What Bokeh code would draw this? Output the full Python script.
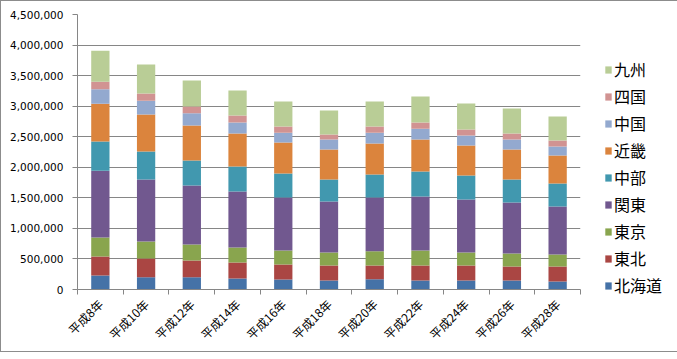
import math
from bokeh.plotting import figure
from bokeh.models import (FixedTicker, NumeralTickFormatter, Legend, LegendItem,
                          ColumnDataSource, Range1d)
from bokeh.embed import file_html
from bokeh.resources import INLINE

years = ["平成8年", "平成10年", "平成12年", "平成14年", "平成16年", "平成18年",
         "平成20年", "平成22年", "平成24年", "平成26年", "平成28年"]
series_names = ["北海道", "東北", "東京", "関東", "中部", "近畿", "中国", "四国", "九州"]

hokkaido = [230000, 201000, 200000, 180000, 164000, 147000, 169000, 147000, 147000, 147000, 131000]
tohoku = [310000, 306000, 275000, 262000, 245000, 246000, 224000, 246000, 246000, 229000, 245000]
tokyo = [310000, 278000, 261000, 245000, 229000, 212000, 234000, 245000, 212000, 213000, 197000]
kanto = [1095000, 1015000, 966000, 917000, 867000, 835000, 878000, 884000, 868000, 835000, 785000]
chubu = [475000, 458000, 409000, 409000, 393000, 360000, 377000, 409000, 392000, 376000, 377000]
kinki = [620000, 606000, 573000, 540000, 507000, 491000, 507000, 524000, 491000, 491000, 458000]
chugoku = [235000, 224000, 201000, 180000, 159000, 164000, 175000, 175000, 164000, 164000, 147000]
shikoku = [125000, 119000, 110000, 114000, 103000, 81000, 103000, 103000, 98000, 98000, 98000]
kyushu = [505000, 475000, 425000, 409000, 409000, 393000, 409000, 425000, 426000, 409000, 393000]

y_ticks = [0, 500000, 1000000, 1500000, 2000000, 2500000, 3000000, 3500000, 4000000, 4500000]

colors = ["#4572A7", "#AA4643", "#89A54E", "#71588F", "#4198AF",
          "#DB843D", "#93A9CF", "#D19392", "#B9CD96"]

values = [hokkaido, tohoku, tokyo, kanto, chubu, kinki, chugoku, shikoku, kyushu]
keys = ["s%d" % i for i in range(len(series_names))]
centers = [i + 0.5 for i in range(len(years))]
data = {"x": centers}
for k, v in zip(keys, values):
    data[k] = v
source = ColumnDataSource(data)

p = figure(frame_width=503, frame_height=275, output_backend="svg", toolbar_location=None,
           x_range=Range1d(0, len(years)), y_range=Range1d(0, 4500000),
           min_border_left=76, min_border_right=82, min_border_top=13,
           min_border_bottom=50)
p.styles = {"border": "1px solid #8c8c8c", "box-sizing": "border-box"}

renderers = p.vbar_stack(keys, x="x", width=0.4, color=colors, line_color=None,
                         source=source)

grid_col = "#868686"
p.outline_line_color = None
p.xgrid.grid_line_color = None
p.ygrid.grid_line_color = grid_col
p.ygrid.ticker = FixedTicker(ticks=y_ticks)

# y axis
p.yaxis.ticker = FixedTicker(ticks=y_ticks)
p.yaxis.formatter = NumeralTickFormatter(format="0,0")
p.yaxis.axis_line_color = grid_col
p.yaxis.major_tick_line_color = grid_col
p.yaxis.major_tick_out = 5
p.yaxis.major_tick_in = 0
p.yaxis.minor_tick_line_color = None
p.yaxis.major_label_text_font = "DejaVu Sans"
p.yaxis.major_label_text_font_size = "10.5px"
p.yaxis.major_label_text_color = "#000000"
p.yaxis.major_label_standoff = 9

# x axis
p.xaxis.ticker = FixedTicker(ticks=centers, minor_ticks=list(range(len(years) + 1)))
p.xaxis.major_label_overrides = {c: y for c, y in zip(centers, years)}
p.xaxis.axis_line_color = grid_col
p.xaxis.major_tick_line_color = None
p.xaxis.minor_tick_line_color = grid_col
p.xaxis.minor_tick_out = 5
p.xaxis.minor_tick_in = 0
p.xaxis.major_label_orientation = math.pi / 4
p.xaxis.major_label_text_font = "Noto Sans CJK JP"
p.xaxis.major_label_text_font_size = "12px"
p.xaxis.major_label_text_color = "#000000"
p.xaxis.major_label_standoff = 6

items = [LegendItem(label=n, renderers=[r]) for n, r in zip(series_names, renderers)]
items = items[::-1]
legend = Legend(items=items, location=(24, -8), orientation="vertical",
                glyph_width=8, glyph_height=9, label_height=21, spacing=3,
                label_standoff=2, padding=0, margin=0,
                border_line_color=None, background_fill_alpha=0,
                label_text_font="Noto Sans CJK JP", label_text_font_size="16px",
                label_text_color="#000000")
p.add_layout(legend, "right")

open("out.html", "w").write(file_html(p, INLINE))
